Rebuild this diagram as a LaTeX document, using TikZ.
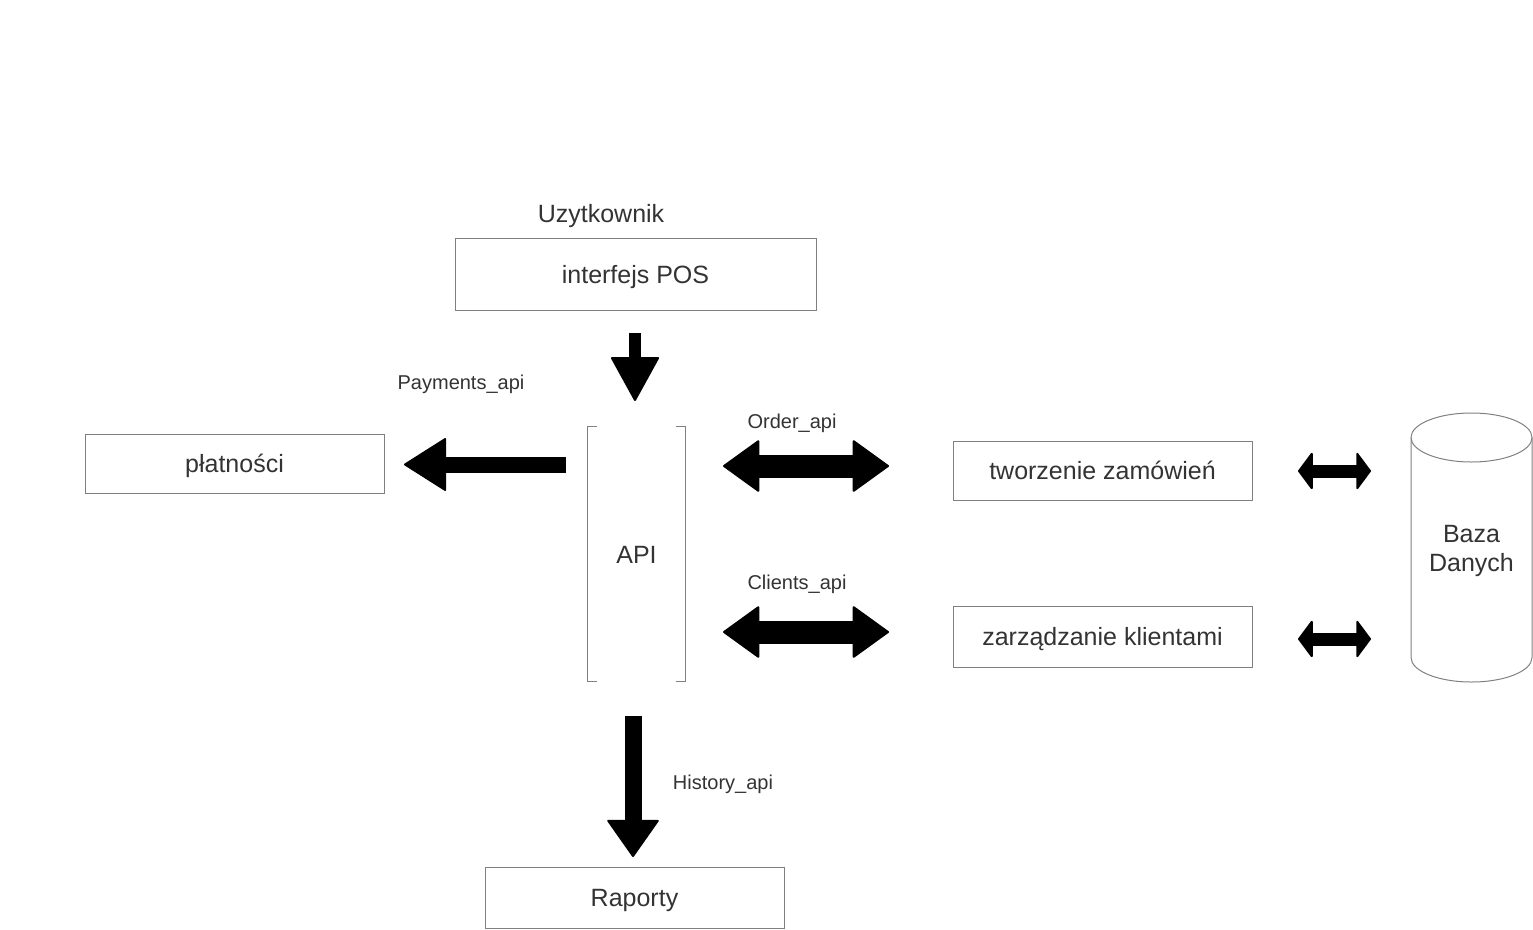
\documentclass[tikz,border=0pt]{standalone}
\usepackage{fontspec}
\setmainfont{Liberation Sans}
\usetikzlibrary{arrows.meta}
\definecolor{txt}{HTML}{333333}
\definecolor{edge}{HTML}{808080}
\newcommand\bigf{\fontsize{25}{29}\selectfont}
\newcommand\smallf{\fontsize{20}{24}\selectfont}
\begin{document}
\begin{tikzpicture}[x=1pt,y=-1pt,
  box/.style={draw=edge, line width=1pt, text=txt, font=\bigf, inner sep=0pt, text height=18pt, text depth=0pt},
  lbl/.style={text=txt, font=\smallf, inner sep=0pt, anchor=base},
  blk/.style={draw=black, line cap=butt}
]
\useasboundingbox (0,0) rectangle (1533,929);

% boxes
\node[box, minimum width=361pt, minimum height=72pt] (pos) at (635.5,274) {interfejs POS};
\node[box, minimum width=299pt, minimum height=59pt] (plat) at (234.5,463.5) {płatności};
\node[box, minimum width=299pt, minimum height=59pt] (tworz) at (1102.5,470.5) {tworzenie zamówień};
\node[box, minimum width=299pt, minimum height=61pt] (zarz) at (1102.5,636.5) {zarządzanie klientami};
\node[box, minimum width=299pt, minimum height=61pt] (rap) at (634.5,897.5) {Raporty};

% API bracket node
\node[text=txt, font=\bigf, minimum width=97pt, minimum height=254pt, inner sep=0pt, text height=18pt, text depth=0pt] (api) at (636.5,554) {API};
\draw[edge, line width=1pt] ([xshift=9pt]api.north west) -- (api.north west) -- (api.south west) -- ([xshift=9pt]api.south west);
\draw[edge, line width=1pt] ([xshift=-9pt]api.north east) -- (api.north east) -- (api.south east) -- ([xshift=-9pt]api.south east);

% database cylinder
\node[text=txt, font=\bigf, align=center, inner sep=0pt] (db) at (1471.5,551) {Baza\\Danych};
\draw[edge, line width=1pt] (1411,437.5) -- (1411,657.5)
   arc[start angle=180, end angle=0, x radius=60.5, y radius=24.5] -- (1532,437.5);
\draw[edge, line width=1pt] (1471.5,437.5) ellipse[x radius=60.5, y radius=24.5];

% labels
\node[lbl, font=\bigf] (user) at (601,222) {Uzytkownik};
\node[lbl] (lpay) at (461,389) {Payments\_api};
\node[lbl] (lord) at (792,428) {Order\_api};
\node[lbl] (lcli) at (797,589) {Clients\_api};
\node[lbl] (lhis) at (723,789) {History\_api};

% arrow end points
\coordinate (a1s) at (635,333);   \coordinate (a1e) at (635,401);
\coordinate (a2s) at (566,464.5); \coordinate (a2e) at (404,464.5);
\coordinate (a3s) at (723,466);   \coordinate (a3e) at (889,466);
\coordinate (a4s) at (723,632);   \coordinate (a4e) at (889,632);
\coordinate (a5s) at (1298,471);  \coordinate (a5e) at (1371,471);
\coordinate (a6s) at (1298,639);  \coordinate (a6e) at (1371,639);
\coordinate (a7s) at (633,716);   \coordinate (a7e) at (633,857);

\draw[blk, line width=12pt, -{Triangle[length=45pt, width=49pt, line width=2pt, round]}] (a1s) -- (a1e);
\draw[blk, line width=16pt, -{Triangle[length=43pt, width=54pt, line width=2pt, round]}] (a2s) -- (a2e);
\draw[blk, line width=23pt, {Triangle[length=37pt, width=53pt, line width=2pt, round]}-{Triangle[length=37pt, width=53pt, line width=2pt, round]}] (a3s) -- (a3e);
\draw[blk, line width=23pt, {Triangle[length=37pt, width=53pt, line width=2pt, round]}-{Triangle[length=37pt, width=53pt, line width=2pt, round]}] (a4s) -- (a4e);
\draw[blk, line width=13pt, {Triangle[length=15pt, width=40pt, line width=2pt, round]}-{Triangle[length=15pt, width=40pt, line width=2pt, round]}] (a5s) -- (a5e);
\draw[blk, line width=13pt, {Triangle[length=15pt, width=40pt, line width=2pt, round]}-{Triangle[length=15pt, width=40pt, line width=2pt, round]}] (a6s) -- (a6e);
\draw[blk, line width=17pt, -{Triangle[length=38pt, width=53pt, line width=2pt, round]}] (a7s) -- (a7e);
\end{tikzpicture}
\end{document}
